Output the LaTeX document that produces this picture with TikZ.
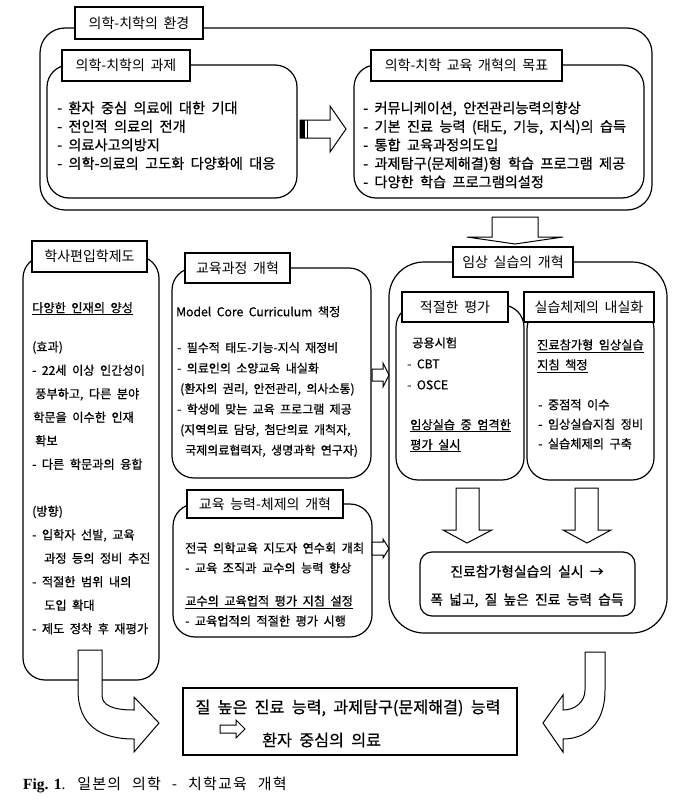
\documentclass[tikz,border=0pt]{standalone}
\usepackage{fontspec}
\setmainfont{Noto Sans CJK KR}[WordSpace=1.8]
\newfontfamily\kb{Noto Sans CJK KR}[WordSpace=2, FakeBold=0.6]
\newfontfamily\capkr{Noto Sans CJK KR}[WordSpace=2.4, LetterSpace=8]
\newfontfamily\capserif{Liberation Serif}
\begin{document}
\begin{tikzpicture}[x=1pt,y=-1pt,
  rbox/.style={draw, line width=1.2pt, rounded corners=#1},
  rbox/.default=22pt,
  lbl/.style={draw, fill=white, line width=1.8pt, inner sep=0pt, minimum height=31pt,
    font=\fontsize{14}{16}\selectfont},
  body/.style={anchor=north west, inner sep=0pt, align=left},
  hollow/.style={draw, fill=white, line width=1pt, line join=miter},
]
\useasboundingbox (0,0) rectangle (683,806);

% ---------- top group ----------
\draw[rbox=25pt] (40,28) rectangle (652,210);
\node[lbl, minimum width=128pt, minimum height=32pt] (envlbl) at (139,23) {의학-치학의 환경};

\draw[rbox] (47,65) rectangle (297,198);
\node[lbl, minimum width=128pt] (problbl) at (126,65.5) {의학-치학의 과제};
\node[body, font=\kb\fontsize{14.2}{18.5}\selectfont] (problist) at (57,101.2)
  {- 환자 중심 의료에 대한 기대\\
   - 전인적 의료의 전개\\
   - 의료사고의방지\\
   - 의학-의료의 고도화 다양화에 대응};

\draw[rbox] (354,65) rectangle (644,198);
\node[lbl, minimum width=191pt] (goallbl) at (466.5,65.5) {의학-치학 교육 개혁의 목표};
\node[body, font=\kb\fontsize{14.2}{18.5}\selectfont] (goallist) at (363,101.2)
  {- 커뮤니케이션, 안전관리능력의향상\\
   - 기본 진료 능력 (태도, 기능, 지식)의 습득\\
   - 통합 교육과정의도입\\
   - 과제탐구(문제해결)형 학습 프로그램 제공\\
   - 다양한 학습 프로그램의설정};

% right-pointing arrow between top boxes
\draw[hollow] (300,120) -- (330,120) -- (330,106) -- (346,129) -- (330,152) -- (330,138) -- (300,138) -- cycle;
\fill (300,120) rectangle (305,138);
\draw[line width=1pt] (307.5,120) -- (307.5,138);

% down arrow to clinical box
\draw[hollow] (492,217) -- (538,217) -- (538,237) -- (563,237) -- (515,244) -- (467,237) -- (492,237) -- cycle;

% ---------- left column ----------
\draw[rbox] (23,256) rectangle (159,680);
\node[lbl, minimum width=115pt] (bachlbl) at (89.5,256.5) {학사편입학제도};
\node[body, font=\kb\fontsize{12.2}{23.5}\selectfont] (bachhead) at (32,302)
  {\underline{다양한 인재의 양성}};
\node[body, font=\kb\fontsize{12.2}{23.5}\selectfont] (bachlist) at (32,341)
  {(효과)\\
   - 22세 이상 인간성이\\
   \hspace*{3pt}풍부하고, 다른 분야\\
   \hspace*{1pt}학문을 이수한 인재\\
   \hspace*{3pt}확보\\
   - 다른 학문과의 융합\\[23.5pt]
   (방향)\\
   - 입학자 선발, 교육\\
   \hspace*{12pt}과정 등의 정비 추진\\
   - 적절한 범위 내의\\
   \hspace*{12pt}도입 확대\\
   - 제도 정착 후 재평가};

% curved arrow from left column to result box
\draw[hollow] (78,650) -- (102,650) -- (102,695)
  .. controls (102,705) and (112,710) .. (134,710) -- (134,697) -- (159,723)
  -- (134,752) -- (134,739) .. controls (100,739) and (78,725) .. (78,690) -- cycle;

% ---------- middle column ----------
\draw[rbox] (172,268) rectangle (371,478);
\node[lbl, minimum width=105pt, minimum height=30pt] (currlbl) at (237.5,268) {교육과정 개혁};
\node[body, font=\kb\fontsize{12.2}{20.5}\selectfont] (currhead) at (176,306)
  {Model Core Curriculum 책정};
\node[body, font=\kb\fontsize{12}{20.5}\selectfont] (currlist) at (177,342)
  {- 필수적 태도-기능-지식 재정비\\
   - 의료인의 소양교육 내실화\\
   \hspace*{3pt}(환자의 권리, 안전관리, 의사소통)\\
   - 학생에 맞는 교육 프로그램 제공\\
   \hspace*{3pt}(지역의료 담당, 첨단의료 개척자,\\
   \hspace*{8pt}국제의료협력자, 생명과학 연구자)};

\draw[hollow] (372,369) -- (383,369) -- (383,363) -- (389,375) -- (383,387) -- (383,381) -- (372,381) -- cycle;

\draw[rbox] (173,504) rectangle (372,637);
\node[lbl, minimum width=156pt, minimum height=28pt] (faclbl) at (265,504) {교육 능력-체제의 개혁};
\node[body, font=\kb\fontsize{12.2}{20}\selectfont] (faclist1) at (185,542.2)
  {전국 의학교육 지도자 연수회 개최\\
   - 교육 조직과 교수의 능력 향상};
\node[body, font=\kb\fontsize{12.2}{20}\selectfont] (faclist2) at (185,595.2)
  {\underline{교수의 교육업적 평가 지침 설정}\\
   - 교육업적의 적절한 평가 시행};

\draw[hollow] (372,542) -- (383,542) -- (383,539) -- (389,548.5) -- (383,558) -- (383,555) -- (372,555) -- cycle;

% ---------- right column ----------
\draw[rbox=35pt] (389,262) rectangle (667,633);
\node[lbl, minimum width=120pt, minimum height=30pt] (cliniclbl) at (513,262) {임상 실습의 개혁};

\draw[rbox] (396,305) rectangle (524,480);
\draw[rbox] (527,307) rectangle (654,480);
\node[lbl, minimum width=106pt, minimum height=30pt] (evallbl) at (455,307) {적절한 평가};
\node[lbl, minimum width=130pt, minimum height=30pt] (syslbl) at (589,307) {실습체제의 내실화};

\node[body, font=\kb\fontsize{12.2}{21}\selectfont] (evallist) at (407,337)
  {\hspace*{5pt}공용시험\\
   - CBT\\
   - OSCE};
\node[body, font=\kb\fontsize{12.2}{20}\selectfont] (evalnote) at (410,419)
  {\underline{임상실습 중 엄격한}\\
   \underline{평가 실시}};

\node[body, font=\kb\fontsize{12.2}{20}\selectfont] (syshead) at (537,339)
  {\underline{진료참가형 임상실습}\\
   \underline{지침 책정}};
\node[body, font=\kb\fontsize{12.2}{19.5}\selectfont] (syslist) at (538,399)
  {- 중점적 이수\\
   - 임상실습지침 정비\\
   - 실습체제의 구축};

\draw[hollow] (456,488) -- (479,488) -- (479,530) -- (492,530) -- (467,543) -- (443,530) -- (456,530) -- cycle;
\draw[hollow] (575,488) -- (598,488) -- (598,530) -- (611,530) -- (587,543) -- (563,530) -- (575,530) -- cycle;

\draw[rbox=12pt] (420,552) rectangle (635,616);
\node[inner sep=0pt, align=center, font=\kb\fontsize{13.8}{28}\selectfont] (resulttxt) at (527,586.2)
  {진료참가형실습의 실시 →\\
   폭 넓고, 질 높은 진료 능력 습득};

% curved arrow from clinical box to final box
\draw[hollow] (585,652) -- (605,652) -- (605,690)
  .. controls (605,725) and (585,739) .. (563,739) -- (563,752) -- (543,723)
  -- (563,695) -- (563,710) .. controls (575,710) and (585,702) .. (585,690) -- cycle;

% ---------- final box ----------
\draw[line width=1.6pt] (183,688) rectangle (517,755);
\node[inner sep=0pt, font=\kb\fontsize{16.2}{18}\selectfont] (final1) at (348,708)
  {질 높은 진료 능력, 과제탐구(문제해결) 능력};
\draw[hollow] (220,725) -- (236,725) -- (236,720) -- (245,729) -- (236,738) -- (236,733) -- (220,733) -- cycle;
\node[inner sep=0pt, anchor=west, font=\kb\fontsize{16.2}{18}\selectfont] (final2) at (262,740)
  {환자 중심의 의료};

% ---------- caption ----------
\node[inner sep=0pt, anchor=west, font=\fontsize{15.5}{17}\selectfont] (caption) at (23,785)
  {{\capserif\bfseries Fig. 1}{\capserif .}\hspace{12pt}{\capkr\fontsize{15}{17}\selectfont 일본의 의학 - 치학교육 개혁}};
\end{tikzpicture}
\end{document}
